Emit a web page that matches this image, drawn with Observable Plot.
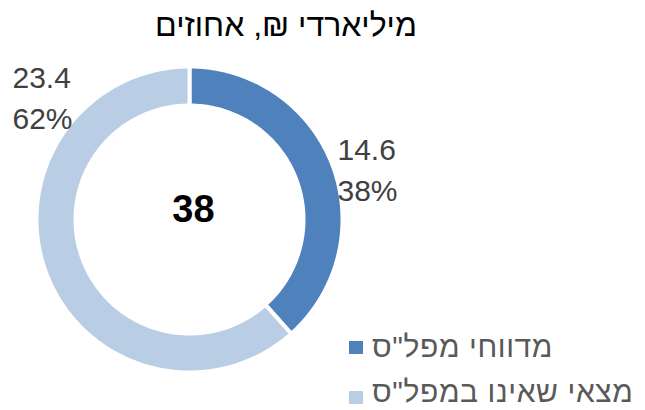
<!DOCTYPE html>
<html lang="he">
<head>
<meta charset="utf-8">
<script src="https://cdn.jsdelivr.net/npm/d3@7"></script>
<script src="https://cdn.jsdelivr.net/npm/@observablehq/plot@0.6"></script>
<style>
  html, body { margin: 0; padding: 0; background: #fff; }
  #wrap { position: relative; width: 645px; height: 410px; overflow: hidden; font-family: "Liberation Sans", "DejaVu Sans", sans-serif; }
  #title { position: absolute; left: 0; top: 0; width: 572px; height: 50px; line-height: 50px; text-align: center; font-size: 32px; color: #000; direction: rtl; }
  #chart { position: absolute; left: 0; top: 50px; }
  .leg { position: absolute; left: 349px; display: flex; align-items: center; height: 26px; }
  .sw { width: 14px; height: 13px; margin-right: 9px; }
  .lt { direction: rtl; font-size: 30px; letter-spacing: 0.6px; line-height: 26px; color: #595959; white-space: nowrap; }
</style>
</head>
<body>
<div id="wrap">
  <div id="title">מיליארדי ₪, אחוזים</div>
  <div id="chart"></div>
  <div id="legend"></div>
</div>
<script>
// ---- data ----
const categories = ["מדווחי מפל\"ס", "מצאי שאינו במפל\"ס"];
const values = [14.6, 23.4];
const colors = ["#4F81BD", "#B9CDE5"];
const titleText = "מיליארדי ₪, אחוזים";

// ---- layout (label anchors in data units of the unit circle) ----
const innerRatio = 114 / 153;
const labelAnchors = [
  {x: 0.967, y: 0.34},
  {x: -1.157, y: 0.81}
];

const total = d3.sum(values);
const pct = d3.format(".0%");
const pie = d3.pie().sort(null).value(d => d.value);
const rows = categories.map((c, i) => ({category: c, value: values[i]}));
const arcs = pie(rows);

// ring polygons built from pie angles (clockwise from 12 o'clock)
const ringPts = [];
arcs.forEach(a => {
  const n = Math.max(8, Math.ceil((a.endAngle - a.startAngle) * 60));
  for (let k = 0; k <= n; k++) {
    const t = a.startAngle + (a.endAngle - a.startAngle) * k / n;
    ringPts.push({category: a.data.category, x: Math.sin(t), y: Math.cos(t)});
  }
  for (let k = n; k >= 0; k--) {
    const t = a.startAngle + (a.endAngle - a.startAngle) * k / n;
    ringPts.push({category: a.data.category, x: innerRatio * Math.sin(t), y: innerRatio * Math.cos(t)});
  }
});

const labels = arcs.map((a, i) => ({
  text: d3.format(".1f")(a.data.value) + "\n" + pct(a.data.value / total),
  x: labelAnchors[i].x,
  y: labelAnchors[i].y
}));

const cx = 189, cy = 169, R = 153;
const plot = Plot.plot({
  width: 645,
  height: 360,
  margin: 0,
  x: {domain: [-1, 1], range: [cx - R, cx + R], axis: null},
  y: {domain: [-1, 1], range: [cy + R, cy - R], axis: null},
  color: {domain: categories, range: colors},
  style: {fontFamily: "Liberation Sans, DejaVu Sans, sans-serif", background: "#fff"},
  marks: [
    Plot.line(ringPts, {x: "x", y: "y", z: "category", fill: "category", stroke: "white", strokeWidth: 4, curve: "linear-closed"}),
    Plot.text(labels, {x: "x", y: "y", text: "text", textAnchor: "start", fontSize: 30, lineHeight: 1.36, fill: "#404040"}),
    Plot.text([total], {x: () => 0, y: () => 0, text: d => d3.format("d")(d), fontSize: 38, fontWeight: "bold", fill: "#000", dx: 4, dy: -10})
  ]
});
document.getElementById("chart").appendChild(plot);

document.getElementById("title").textContent = titleText;
const legendTops = [334, 379];
const leg = document.getElementById("legend");
categories.forEach((c, i) => {
  const row = document.createElement("div");
  row.className = "leg";
  row.style.top = legendTops[i] + "px";
  const sw = document.createElement("div");
  sw.className = "sw";
  sw.style.background = colors[i];
  sw.style.marginTop = (i === 0 ? 1 : 11) + "px";
  const t = document.createElement("div");
  t.className = "lt";
  t.textContent = c;
  row.appendChild(sw);
  row.appendChild(t);
  leg.appendChild(row);
});
</script>
</body>
</html>
